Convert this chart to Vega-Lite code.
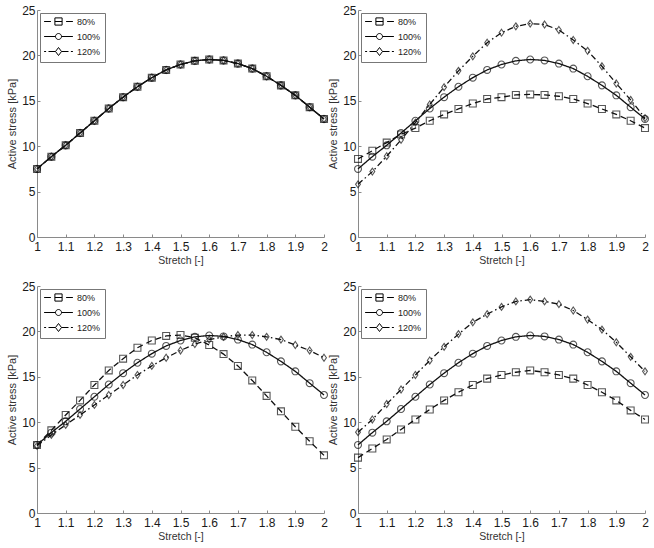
{
 "$schema": "https://vega.github.io/schema/vega-lite/v6.json",
 "padding": {"left": 6, "top": 4, "right": 2, "bottom": 2},
 "bounds": "flush",
 "columns": 2,
 "spacing": {"row": 49, "column": 34},
 "datasets": {"d": [
{"p":1,"s":"80%","x":1,"y":7.5},{"p":1,"s":"80%","x":1.05,"y":8.85},{"p":1,"s":"80%","x":1.1,"y":10.1},{"p":1,"s":"80%","x":1.15,"y":11.45},{"p":1,"s":"80%","x":1.2,"y":12.8},{"p":1,"s":"80%","x":1.25,"y":14.15},{"p":1,"s":"80%","x":1.3,"y":15.4},{"p":1,"s":"80%","x":1.35,"y":16.55},{"p":1,"s":"80%","x":1.4,"y":17.55},{"p":1,"s":"80%","x":1.45,"y":18.4},{"p":1,"s":"80%","x":1.5,"y":19.0},{"p":1,"s":"80%","x":1.55,"y":19.4},{"p":1,"s":"80%","x":1.6,"y":19.55},{"p":1,"s":"80%","x":1.65,"y":19.45},{"p":1,"s":"80%","x":1.7,"y":19.1},{"p":1,"s":"80%","x":1.75,"y":18.55},{"p":1,"s":"80%","x":1.8,"y":17.7},{"p":1,"s":"80%","x":1.85,"y":16.7},{"p":1,"s":"80%","x":1.9,"y":15.6},{"p":1,"s":"80%","x":1.95,"y":14.3},{"p":1,"s":"80%","x":2,"y":13.0},
{"p":1,"s":"100%","x":1,"y":7.5},{"p":1,"s":"100%","x":1.05,"y":8.85},{"p":1,"s":"100%","x":1.1,"y":10.1},{"p":1,"s":"100%","x":1.15,"y":11.45},{"p":1,"s":"100%","x":1.2,"y":12.8},{"p":1,"s":"100%","x":1.25,"y":14.15},{"p":1,"s":"100%","x":1.3,"y":15.4},{"p":1,"s":"100%","x":1.35,"y":16.55},{"p":1,"s":"100%","x":1.4,"y":17.55},{"p":1,"s":"100%","x":1.45,"y":18.4},{"p":1,"s":"100%","x":1.5,"y":19.0},{"p":1,"s":"100%","x":1.55,"y":19.4},{"p":1,"s":"100%","x":1.6,"y":19.55},{"p":1,"s":"100%","x":1.65,"y":19.45},{"p":1,"s":"100%","x":1.7,"y":19.1},{"p":1,"s":"100%","x":1.75,"y":18.55},{"p":1,"s":"100%","x":1.8,"y":17.7},{"p":1,"s":"100%","x":1.85,"y":16.7},{"p":1,"s":"100%","x":1.9,"y":15.6},{"p":1,"s":"100%","x":1.95,"y":14.3},{"p":1,"s":"100%","x":2,"y":13.0},
{"p":1,"s":"120%","x":1,"y":7.5},{"p":1,"s":"120%","x":1.05,"y":8.85},{"p":1,"s":"120%","x":1.1,"y":10.1},{"p":1,"s":"120%","x":1.15,"y":11.45},{"p":1,"s":"120%","x":1.2,"y":12.8},{"p":1,"s":"120%","x":1.25,"y":14.15},{"p":1,"s":"120%","x":1.3,"y":15.4},{"p":1,"s":"120%","x":1.35,"y":16.55},{"p":1,"s":"120%","x":1.4,"y":17.55},{"p":1,"s":"120%","x":1.45,"y":18.4},{"p":1,"s":"120%","x":1.5,"y":19.0},{"p":1,"s":"120%","x":1.55,"y":19.4},{"p":1,"s":"120%","x":1.6,"y":19.55},{"p":1,"s":"120%","x":1.65,"y":19.45},{"p":1,"s":"120%","x":1.7,"y":19.1},{"p":1,"s":"120%","x":1.75,"y":18.55},{"p":1,"s":"120%","x":1.8,"y":17.7},{"p":1,"s":"120%","x":1.85,"y":16.7},{"p":1,"s":"120%","x":1.9,"y":15.6},{"p":1,"s":"120%","x":1.95,"y":14.3},{"p":1,"s":"120%","x":2,"y":13.0},
{"p":2,"s":"80%","x":1,"y":8.6},{"p":2,"s":"80%","x":1.05,"y":9.5},{"p":2,"s":"80%","x":1.1,"y":10.4},{"p":2,"s":"80%","x":1.15,"y":11.3},{"p":2,"s":"80%","x":1.2,"y":12.0},{"p":2,"s":"80%","x":1.25,"y":12.8},{"p":2,"s":"80%","x":1.3,"y":13.5},{"p":2,"s":"80%","x":1.35,"y":14.1},{"p":2,"s":"80%","x":1.4,"y":14.7},{"p":2,"s":"80%","x":1.45,"y":15.2},{"p":2,"s":"80%","x":1.5,"y":15.4},{"p":2,"s":"80%","x":1.55,"y":15.65},{"p":2,"s":"80%","x":1.6,"y":15.7},{"p":2,"s":"80%","x":1.65,"y":15.65},{"p":2,"s":"80%","x":1.7,"y":15.5},{"p":2,"s":"80%","x":1.75,"y":15.2},{"p":2,"s":"80%","x":1.8,"y":14.7},{"p":2,"s":"80%","x":1.85,"y":14.1},{"p":2,"s":"80%","x":1.9,"y":13.5},{"p":2,"s":"80%","x":1.95,"y":12.8},{"p":2,"s":"80%","x":2,"y":12.0},
{"p":2,"s":"100%","x":1,"y":7.5},{"p":2,"s":"100%","x":1.05,"y":8.85},{"p":2,"s":"100%","x":1.1,"y":10.1},{"p":2,"s":"100%","x":1.15,"y":11.45},{"p":2,"s":"100%","x":1.2,"y":12.8},{"p":2,"s":"100%","x":1.25,"y":14.15},{"p":2,"s":"100%","x":1.3,"y":15.4},{"p":2,"s":"100%","x":1.35,"y":16.55},{"p":2,"s":"100%","x":1.4,"y":17.55},{"p":2,"s":"100%","x":1.45,"y":18.4},{"p":2,"s":"100%","x":1.5,"y":19.0},{"p":2,"s":"100%","x":1.55,"y":19.4},{"p":2,"s":"100%","x":1.6,"y":19.55},{"p":2,"s":"100%","x":1.65,"y":19.45},{"p":2,"s":"100%","x":1.7,"y":19.1},{"p":2,"s":"100%","x":1.75,"y":18.55},{"p":2,"s":"100%","x":1.8,"y":17.7},{"p":2,"s":"100%","x":1.85,"y":16.7},{"p":2,"s":"100%","x":1.9,"y":15.6},{"p":2,"s":"100%","x":1.95,"y":14.3},{"p":2,"s":"100%","x":2,"y":13.0},
{"p":2,"s":"120%","x":1,"y":5.8},{"p":2,"s":"120%","x":1.05,"y":7.2},{"p":2,"s":"120%","x":1.1,"y":8.9},{"p":2,"s":"120%","x":1.15,"y":10.7},{"p":2,"s":"120%","x":1.2,"y":12.6},{"p":2,"s":"120%","x":1.25,"y":14.6},{"p":2,"s":"120%","x":1.3,"y":16.5},{"p":2,"s":"120%","x":1.35,"y":18.3},{"p":2,"s":"120%","x":1.4,"y":19.9},{"p":2,"s":"120%","x":1.45,"y":21.4},{"p":2,"s":"120%","x":1.5,"y":22.5},{"p":2,"s":"120%","x":1.55,"y":23.2},{"p":2,"s":"120%","x":1.6,"y":23.5},{"p":2,"s":"120%","x":1.65,"y":23.4},{"p":2,"s":"120%","x":1.7,"y":22.8},{"p":2,"s":"120%","x":1.75,"y":21.7},{"p":2,"s":"120%","x":1.8,"y":20.5},{"p":2,"s":"120%","x":1.85,"y":18.8},{"p":2,"s":"120%","x":1.9,"y":16.9},{"p":2,"s":"120%","x":1.95,"y":15.1},{"p":2,"s":"120%","x":2,"y":13.1},
{"p":3,"s":"80%","x":1,"y":7.5},{"p":3,"s":"80%","x":1.05,"y":9.1},{"p":3,"s":"80%","x":1.1,"y":10.8},{"p":3,"s":"80%","x":1.15,"y":12.4},{"p":3,"s":"80%","x":1.2,"y":14.1},{"p":3,"s":"80%","x":1.25,"y":15.7},{"p":3,"s":"80%","x":1.3,"y":17.0},{"p":3,"s":"80%","x":1.35,"y":18.2},{"p":3,"s":"80%","x":1.4,"y":19.0},{"p":3,"s":"80%","x":1.45,"y":19.5},{"p":3,"s":"80%","x":1.5,"y":19.6},{"p":3,"s":"80%","x":1.55,"y":19.3},{"p":3,"s":"80%","x":1.6,"y":18.5},{"p":3,"s":"80%","x":1.65,"y":17.5},{"p":3,"s":"80%","x":1.7,"y":16.2},{"p":3,"s":"80%","x":1.75,"y":14.6},{"p":3,"s":"80%","x":1.8,"y":12.9},{"p":3,"s":"80%","x":1.85,"y":11.2},{"p":3,"s":"80%","x":1.9,"y":9.5},{"p":3,"s":"80%","x":1.95,"y":7.9},{"p":3,"s":"80%","x":2,"y":6.35},
{"p":3,"s":"100%","x":1,"y":7.5},{"p":3,"s":"100%","x":1.05,"y":8.85},{"p":3,"s":"100%","x":1.1,"y":10.1},{"p":3,"s":"100%","x":1.15,"y":11.45},{"p":3,"s":"100%","x":1.2,"y":12.8},{"p":3,"s":"100%","x":1.25,"y":14.15},{"p":3,"s":"100%","x":1.3,"y":15.4},{"p":3,"s":"100%","x":1.35,"y":16.55},{"p":3,"s":"100%","x":1.4,"y":17.55},{"p":3,"s":"100%","x":1.45,"y":18.4},{"p":3,"s":"100%","x":1.5,"y":19.0},{"p":3,"s":"100%","x":1.55,"y":19.4},{"p":3,"s":"100%","x":1.6,"y":19.55},{"p":3,"s":"100%","x":1.65,"y":19.45},{"p":3,"s":"100%","x":1.7,"y":19.1},{"p":3,"s":"100%","x":1.75,"y":18.55},{"p":3,"s":"100%","x":1.8,"y":17.7},{"p":3,"s":"100%","x":1.85,"y":16.7},{"p":3,"s":"100%","x":1.9,"y":15.6},{"p":3,"s":"100%","x":1.95,"y":14.3},{"p":3,"s":"100%","x":2,"y":13.0},
{"p":3,"s":"120%","x":1,"y":7.4},{"p":3,"s":"120%","x":1.05,"y":8.6},{"p":3,"s":"120%","x":1.1,"y":9.7},{"p":3,"s":"120%","x":1.15,"y":10.8},{"p":3,"s":"120%","x":1.2,"y":11.9},{"p":3,"s":"120%","x":1.25,"y":13.0},{"p":3,"s":"120%","x":1.3,"y":14.1},{"p":3,"s":"120%","x":1.35,"y":15.2},{"p":3,"s":"120%","x":1.4,"y":16.2},{"p":3,"s":"120%","x":1.45,"y":17.1},{"p":3,"s":"120%","x":1.5,"y":17.9},{"p":3,"s":"120%","x":1.55,"y":18.6},{"p":3,"s":"120%","x":1.6,"y":19.1},{"p":3,"s":"120%","x":1.65,"y":19.4},{"p":3,"s":"120%","x":1.7,"y":19.6},{"p":3,"s":"120%","x":1.75,"y":19.6},{"p":3,"s":"120%","x":1.8,"y":19.4},{"p":3,"s":"120%","x":1.85,"y":19.1},{"p":3,"s":"120%","x":1.9,"y":18.5},{"p":3,"s":"120%","x":1.95,"y":17.9},{"p":3,"s":"120%","x":2,"y":17.1},
{"p":4,"s":"80%","x":1,"y":6.1},{"p":4,"s":"80%","x":1.05,"y":7.1},{"p":4,"s":"80%","x":1.1,"y":8.1},{"p":4,"s":"80%","x":1.15,"y":9.2},{"p":4,"s":"80%","x":1.2,"y":10.3},{"p":4,"s":"80%","x":1.25,"y":11.4},{"p":4,"s":"80%","x":1.3,"y":12.4},{"p":4,"s":"80%","x":1.35,"y":13.3},{"p":4,"s":"80%","x":1.4,"y":14.1},{"p":4,"s":"80%","x":1.45,"y":14.8},{"p":4,"s":"80%","x":1.5,"y":15.2},{"p":4,"s":"80%","x":1.55,"y":15.5},{"p":4,"s":"80%","x":1.6,"y":15.7},{"p":4,"s":"80%","x":1.65,"y":15.5},{"p":4,"s":"80%","x":1.7,"y":15.2},{"p":4,"s":"80%","x":1.75,"y":14.8},{"p":4,"s":"80%","x":1.8,"y":14.1},{"p":4,"s":"80%","x":1.85,"y":13.3},{"p":4,"s":"80%","x":1.9,"y":12.4},{"p":4,"s":"80%","x":1.95,"y":11.3},{"p":4,"s":"80%","x":2,"y":10.3},
{"p":4,"s":"100%","x":1,"y":7.5},{"p":4,"s":"100%","x":1.05,"y":8.85},{"p":4,"s":"100%","x":1.1,"y":10.1},{"p":4,"s":"100%","x":1.15,"y":11.45},{"p":4,"s":"100%","x":1.2,"y":12.8},{"p":4,"s":"100%","x":1.25,"y":14.15},{"p":4,"s":"100%","x":1.3,"y":15.4},{"p":4,"s":"100%","x":1.35,"y":16.55},{"p":4,"s":"100%","x":1.4,"y":17.55},{"p":4,"s":"100%","x":1.45,"y":18.4},{"p":4,"s":"100%","x":1.5,"y":19.0},{"p":4,"s":"100%","x":1.55,"y":19.4},{"p":4,"s":"100%","x":1.6,"y":19.55},{"p":4,"s":"100%","x":1.65,"y":19.45},{"p":4,"s":"100%","x":1.7,"y":19.1},{"p":4,"s":"100%","x":1.75,"y":18.55},{"p":4,"s":"100%","x":1.8,"y":17.7},{"p":4,"s":"100%","x":1.85,"y":16.7},{"p":4,"s":"100%","x":1.9,"y":15.6},{"p":4,"s":"100%","x":1.95,"y":14.3},{"p":4,"s":"100%","x":2,"y":13.0},
{"p":4,"s":"120%","x":1,"y":8.9},{"p":4,"s":"120%","x":1.05,"y":10.3},{"p":4,"s":"120%","x":1.1,"y":12.0},{"p":4,"s":"120%","x":1.15,"y":13.6},{"p":4,"s":"120%","x":1.2,"y":15.2},{"p":4,"s":"120%","x":1.25,"y":16.8},{"p":4,"s":"120%","x":1.3,"y":18.3},{"p":4,"s":"120%","x":1.35,"y":19.7},{"p":4,"s":"120%","x":1.4,"y":21.0},{"p":4,"s":"120%","x":1.45,"y":21.9},{"p":4,"s":"120%","x":1.5,"y":22.7},{"p":4,"s":"120%","x":1.55,"y":23.3},{"p":4,"s":"120%","x":1.6,"y":23.5},{"p":4,"s":"120%","x":1.65,"y":23.3},{"p":4,"s":"120%","x":1.7,"y":23.0},{"p":4,"s":"120%","x":1.75,"y":22.3},{"p":4,"s":"120%","x":1.8,"y":21.3},{"p":4,"s":"120%","x":1.85,"y":20.2},{"p":4,"s":"120%","x":1.9,"y":18.8},{"p":4,"s":"120%","x":1.95,"y":17.2},{"p":4,"s":"120%","x":2,"y":15.6}
 ]},
 "config": {
  "view": {"stroke": null},
  "font": "Liberation Sans",
  "axis": {"grid": false, "domainColor": "#8a8a8a", "tickColor": "#8a8a8a", "tickSize": -3, "labelFontSize": 12, "labelColor": "#1a1a1a", "labelFont": "Liberation Sans", "labelFlush": false, "titleFont": "Liberation Sans", "titleFontWeight": "normal", "titleColor": "#333333"},
  "axisX": {"titleFontSize": 10.5, "titlePadding": 3, "labelPadding": 7.5},
  "axisY": {"titleFontSize": 11, "titlePadding": 4, "labelPadding": 5},
  "legend": {"orient": "top-left", "offset": 3, "strokeColor": "#777777", "fillColor": "white", "padding": 4, "labelFontSize": 9, "labelFont": "Liberation Sans", "labelColor": "#222222", "symbolSize": 64, "symbolOffset": 10, "labelOffset": 14, "rowPadding": 3, "symbolStrokeWidth": 1, "symbolStrokeColor": "black", "symbolOpacity": 1}
 },
 "resolve": {"scale": {"strokeDash": "independent", "shape": "independent"}, "legend": {"shape": "independent"}},
 "concat": [
  {"width": 287, "height": 227, "data": {"name": "d"}, "transform": [{"filter": "datum.p == 1"}],
   "resolve": {"scale": {"shape": "independent"}},
   "encoding": {
    "x": {"field": "x", "type": "quantitative", "scale": {"domain": [1, 2], "nice": false}, "axis": {"values": [1,1.1,1.2,1.3,1.4,1.5,1.6,1.7,1.8,1.9,2], "format": "~g", "title": "Stretch [-]"}},
    "y": {"field": "y", "type": "quantitative", "scale": {"domain": [0, 25], "nice": false}, "axis": {"values": [0,5,10,15,20,25], "title": "Active stress [kPa]"}}
   },
   "layer": [
    {"mark": {"type": "line", "stroke": "#111111", "strokeWidth": 1.3},
     "encoding": {"strokeDash": {"field": "s", "type": "nominal", "scale": {"domain": ["80%","100%","120%"], "range": [[6,4],[1,0],[6,3,1.5,3]]}, "legend": null}}},
    {"mark": {"type": "point", "filled": false, "stroke": "#111111", "strokeWidth": 1.1, "size": 48},
     "encoding": {"shape": {"field": "s", "type": "nominal", "scale": {"domain": ["80%","100%","120%"], "range": ["square","circle","M0,-1L0.7,0L0,1L-0.7,0Z"]}, "legend": null}}},
    {"mark": {"type": "point", "filled": false, "stroke": "black", "strokeWidth": 1, "size": 64, "opacity": 0},
     "encoding": {"shape": {"field": "s", "type": "nominal", "scale": {"domain": ["80%","100%","120%"], "range": ["M-3.6,0H-1.9M-0.9,-0.9H0.9V0.9H-0.9ZM-0.9,0H0.9M1.9,0H3.6", "M-3.6,0H-0.75A0.75,0.75,0,1,1,0.75,0A0.75,0.75,0,1,1,-0.75,0M0.75,0H3.6", "M-3.6,0H-3.1M-2.5,0H-0.75M0,-1L0.75,0L0,1L-0.75,0ZM0.75,0H2.5M3.1,0H3.6"]}, "legend": {"title": null}}}}
   ]},
  {"width": 287, "height": 227, "data": {"name": "d"}, "transform": [{"filter": "datum.p == 2"}],
   "resolve": {"scale": {"shape": "independent"}},
   "encoding": {
    "x": {"field": "x", "type": "quantitative", "scale": {"domain": [1, 2], "nice": false}, "axis": {"values": [1,1.1,1.2,1.3,1.4,1.5,1.6,1.7,1.8,1.9,2], "format": "~g", "title": "Stretch [-]"}},
    "y": {"field": "y", "type": "quantitative", "scale": {"domain": [0, 25], "nice": false}, "axis": {"values": [0,5,10,15,20,25], "title": "Active stress [kPa]"}}
   },
   "layer": [
    {"mark": {"type": "line", "stroke": "#111111", "strokeWidth": 1.3},
     "encoding": {"strokeDash": {"field": "s", "type": "nominal", "scale": {"domain": ["80%","100%","120%"], "range": [[6,4],[1,0],[6,3,1.5,3]]}, "legend": null}}},
    {"mark": {"type": "point", "filled": false, "stroke": "#111111", "strokeWidth": 1.1, "size": 48},
     "encoding": {"shape": {"field": "s", "type": "nominal", "scale": {"domain": ["80%","100%","120%"], "range": ["square","circle","M0,-1L0.7,0L0,1L-0.7,0Z"]}, "legend": null}}},
    {"mark": {"type": "point", "filled": false, "stroke": "black", "strokeWidth": 1, "size": 64, "opacity": 0},
     "encoding": {"shape": {"field": "s", "type": "nominal", "scale": {"domain": ["80%","100%","120%"], "range": ["M-3.6,0H-1.9M-0.9,-0.9H0.9V0.9H-0.9ZM-0.9,0H0.9M1.9,0H3.6", "M-3.6,0H-0.75A0.75,0.75,0,1,1,0.75,0A0.75,0.75,0,1,1,-0.75,0M0.75,0H3.6", "M-3.6,0H-3.1M-2.5,0H-0.75M0,-1L0.75,0L0,1L-0.75,0ZM0.75,0H2.5M3.1,0H3.6"]}, "legend": {"title": null}}}}
   ]},
  {"width": 287, "height": 227, "data": {"name": "d"}, "transform": [{"filter": "datum.p == 3"}],
   "resolve": {"scale": {"shape": "independent"}},
   "encoding": {
    "x": {"field": "x", "type": "quantitative", "scale": {"domain": [1, 2], "nice": false}, "axis": {"values": [1,1.1,1.2,1.3,1.4,1.5,1.6,1.7,1.8,1.9,2], "format": "~g", "title": "Stretch [-]"}},
    "y": {"field": "y", "type": "quantitative", "scale": {"domain": [0, 25], "nice": false}, "axis": {"values": [0,5,10,15,20,25], "title": "Active stress [kPa]"}}
   },
   "layer": [
    {"mark": {"type": "line", "stroke": "#111111", "strokeWidth": 1.3},
     "encoding": {"strokeDash": {"field": "s", "type": "nominal", "scale": {"domain": ["80%","100%","120%"], "range": [[6,4],[1,0],[6,3,1.5,3]]}, "legend": null}}},
    {"mark": {"type": "point", "filled": false, "stroke": "#111111", "strokeWidth": 1.1, "size": 48},
     "encoding": {"shape": {"field": "s", "type": "nominal", "scale": {"domain": ["80%","100%","120%"], "range": ["square","circle","M0,-1L0.7,0L0,1L-0.7,0Z"]}, "legend": null}}},
    {"mark": {"type": "point", "filled": false, "stroke": "black", "strokeWidth": 1, "size": 64, "opacity": 0},
     "encoding": {"shape": {"field": "s", "type": "nominal", "scale": {"domain": ["80%","100%","120%"], "range": ["M-3.6,0H-1.9M-0.9,-0.9H0.9V0.9H-0.9ZM-0.9,0H0.9M1.9,0H3.6", "M-3.6,0H-0.75A0.75,0.75,0,1,1,0.75,0A0.75,0.75,0,1,1,-0.75,0M0.75,0H3.6", "M-3.6,0H-3.1M-2.5,0H-0.75M0,-1L0.75,0L0,1L-0.75,0ZM0.75,0H2.5M3.1,0H3.6"]}, "legend": {"title": null}}}}
   ]},
  {"width": 287, "height": 227, "data": {"name": "d"}, "transform": [{"filter": "datum.p == 4"}],
   "resolve": {"scale": {"shape": "independent"}},
   "encoding": {
    "x": {"field": "x", "type": "quantitative", "scale": {"domain": [1, 2], "nice": false}, "axis": {"values": [1,1.1,1.2,1.3,1.4,1.5,1.6,1.7,1.8,1.9,2], "format": "~g", "title": "Stretch [-]"}},
    "y": {"field": "y", "type": "quantitative", "scale": {"domain": [0, 25], "nice": false}, "axis": {"values": [0,5,10,15,20,25], "title": "Active stress [kPa]"}}
   },
   "layer": [
    {"mark": {"type": "line", "stroke": "#111111", "strokeWidth": 1.3},
     "encoding": {"strokeDash": {"field": "s", "type": "nominal", "scale": {"domain": ["80%","100%","120%"], "range": [[6,4],[1,0],[6,3,1.5,3]]}, "legend": null}}},
    {"mark": {"type": "point", "filled": false, "stroke": "#111111", "strokeWidth": 1.1, "size": 48},
     "encoding": {"shape": {"field": "s", "type": "nominal", "scale": {"domain": ["80%","100%","120%"], "range": ["square","circle","M0,-1L0.7,0L0,1L-0.7,0Z"]}, "legend": null}}},
    {"mark": {"type": "point", "filled": false, "stroke": "black", "strokeWidth": 1, "size": 64, "opacity": 0},
     "encoding": {"shape": {"field": "s", "type": "nominal", "scale": {"domain": ["80%","100%","120%"], "range": ["M-3.6,0H-1.9M-0.9,-0.9H0.9V0.9H-0.9ZM-0.9,0H0.9M1.9,0H3.6", "M-3.6,0H-0.75A0.75,0.75,0,1,1,0.75,0A0.75,0.75,0,1,1,-0.75,0M0.75,0H3.6", "M-3.6,0H-3.1M-2.5,0H-0.75M0,-1L0.75,0L0,1L-0.75,0ZM0.75,0H2.5M3.1,0H3.6"]}, "legend": {"title": null}}}}
   ]}
 ]
}
